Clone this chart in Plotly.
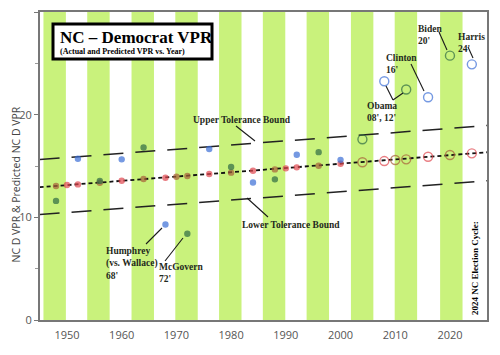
import plotly.graph_objects as go

# ---------------- data ----------------
pred_years = [1948, 1950, 1952, 1956, 1960, 1964, 1968, 1970, 1972, 1976, 1980, 1984,
              1988, 1990, 1992, 1996, 2000, 2004, 2008, 2010, 2012, 2016, 2020, 2024]
pred_vpr = [13.05, 13.15, 13.21, 13.37, 13.56, 13.73, 13.86, 13.96, 14.02, 14.22, 14.35, 14.54,
            14.67, 14.77, 14.87, 15.03, 15.22, 15.36, 15.48, 15.58, 15.65, 15.90, 16.07, 16.23]

act_years = [1948, 1952, 1956, 1960, 1964, 1968, 1972, 1976, 1980, 1984,
             1988, 1992, 1996, 2000, 2004, 2008, 2012, 2016, 2020, 2024]
act_vpr = [11.6, 15.7, 13.55, 15.65, 16.8, 9.3, 8.4, 16.65, 14.9, 13.4,
           13.7, 16.1, 16.35, 15.6, 17.6, 23.25, 22.45, 21.7, 25.75, 24.9]

trend_years = [1945, 2027]
trend_vpr = [12.93, 16.35]
upper_vpr = [15.62, 18.95]
lower_vpr = [10.27, 13.57]

band_starts = [1945.7, 1953.7, 1961.8, 1969.8, 1977.8, 1985.8, 1993.8, 2001.9, 2009.9, 2018.2]
band_width = 4.1

x_ticks = [1950, 1960, 1970, 1980, 1990, 2000, 2010, 2020]
y_ticks = [0, 10, 20, 30]

# ---------------- layout helpers (screen pixel -> data / paper) ----------------
PAGE = 8  # default page body margin of the html page
W, H = 500 - PAGE, 355 - PAGE
L, R, T, B = 40, 487, 12, 320          # plot area in screen pixels
X0, X1 = 1945.07, 2026.77


def X(px):
    return X0 + (px - L) * (X1 - X0) / (R - L)


def Y(py):
    return (B - py) * 30.0 / (B - T)


def PX(px):
    return (px - L) / (R - L)


def PY(py):
    return (B - py) / (B - T)


def in_band(yr):
    return any(s <= yr <= s + band_width for s in band_starts)


SERIF = "Liberation Serif, Times New Roman, serif"
SANS = "Open Sans, Noto Sans, sans-serif"
TXT = "#1f2a20"

fig = go.Figure()

# trend + tolerance bounds
fig.add_trace(go.Scatter(x=trend_years, y=upper_vpr, mode="lines",
                         line=dict(color="#222", width=1.5, dash="20px,12px"),
                         hoverinfo="skip", showlegend=False))
fig.add_trace(go.Scatter(x=trend_years, y=lower_vpr, mode="lines",
                         line=dict(color="#222", width=1.5, dash="20px,12px"),
                         hoverinfo="skip", showlegend=False))
fig.add_trace(go.Scatter(x=trend_years, y=trend_vpr, mode="lines",
                         line=dict(color="#111", width=1.8, dash="4px,3px"),
                         hoverinfo="skip", showlegend=False))

# predicted points
pred_colors = ["#a8603a" if in_band(y) else "#e0474f" for y in pred_years]
pred_open = [y >= 2004 for y in pred_years]
fig.add_trace(go.Scatter(
    x=pred_years, y=pred_vpr, mode="markers", showlegend=False,
    marker=dict(
        symbol=["circle-open" if o else "circle" for o in pred_open],
        size=[9 if o else 5 for o in pred_open],
        color=pred_colors,
        line=dict(color=pred_colors, width=1.4),
    )))

# actual points
act_colors = ["#2f6b45" if in_band(y) else "#3b6ed6" for y in act_years]
act_open = [y >= 2004 for y in act_years]
fig.add_trace(go.Scatter(
    x=act_years, y=act_vpr, mode="markers", showlegend=False,
    marker=dict(
        symbol=["circle-open" if o else "circle" for o in act_open],
        size=[9 if o else 5 for o in act_open],
        color=act_colors,
        line=dict(color=act_colors, width=1.4),
    )))

shapes = []
# green stripes
for s in band_starts:
    shapes.append(dict(type="rect", xref="x", yref="paper", x0=s, x1=s + band_width,
                       y0=0, y1=1, fillcolor="#c9f27c", line=dict(width=0), layer="below"))

# title box
shapes.append(dict(type="rect", xref="paper", yref="paper",
                   x0=PX(53), x1=PX(212), y0=PY(59), y1=PY(24),
                   fillcolor="white", line=dict(color="black", width=3), layer="above"))

# connector lines
connectors = [
    ((236, 126), (255, 141)),   # upper bound
    ((247, 198), (268, 217)),   # lower bound
    ((146, 244), (162, 228)),   # Humphrey
    ((165, 261), (183, 238)),   # McGovern
    ((386, 86), (393, 100)),    # Obama 08
    ((393, 100), (403, 93)),    # Obama 12
    ((411, 64), (424, 91)),     # Clinton
    ((439, 32), (447, 50)),     # Biden
    ((468, 47), (473, 58)),     # Harris
]
for (a, b) in connectors:
    shapes.append(dict(type="line", xref="x", yref="y", x0=X(a[0]), y0=Y(a[1]),
                       x1=X(b[0]), y1=Y(b[1]), line=dict(color="#1a1a1a", width=1.1)))

annotations = []


def label(text, px, py, size=9.5, color=TXT, **kw):
    annotations.append(dict(text=text, xref="paper", yref="paper", x=PX(px), y=PY(py),
                            xanchor=kw.pop("xanchor", "left"), yanchor=kw.pop("yanchor", "middle"),
                            showarrow=False, align="left",
                            font=dict(family=SERIF, size=size, color=color), **kw))


label("<b>NC – Democrat VPR</b>", 58, 37.5, size=17, color="black")
label("<b>(Actual and Predicted VPR vs. Year)</b>", 58, 51.5, size=8, color="black")
label("<b>Upper Tolerance Bound</b>", 191, 120)
label("<b>Lower Tolerance Bound</b>", 240, 225)
label("<b>Humphrey<br>(vs. Wallace)<br>68'</b>", 104, 243.5, yanchor="top")
label("<b>McGovern<br>72'</b>", 157, 259.5, yanchor="top")
label("<b>Obama<br>08', 12'</b>", 365, 99.5, yanchor="top")
label("<b>Clinton<br>16'</b>", 384, 50.5, yanchor="top")
label("<b>Biden<br>20'</b>", 416, 22.5, yanchor="top")
label("<b>Harris<br>24'</b>", 456, 30.5, yanchor="top")
label("<b>2024 NC Election Cycle:</b>", 475, 268, size=9, color="black",
      xanchor="center", textangle=-90)

annotations.append(dict(text="NC D VPR & Predicted NC D VPR", xref="paper", yref="paper",
                        x=PX(15.5), y=PY(185), xanchor="center", yanchor="middle",
                        showarrow=False, textangle=-90, borderpad=0,
                        font=dict(family=SANS, size=10.5, color="#444")))

fig.update_layout(
    width=W, height=H,
    margin=dict(l=L - PAGE, r=500 - R, t=T - PAGE, b=355 - B, autoexpand=False),
    paper_bgcolor="white", plot_bgcolor="white",
    shapes=shapes, annotations=annotations,
    xaxis=dict(range=[X0, X1], tickvals=x_ticks, ticks="outside", ticklen=4,
               tickcolor="rgba(0,0,0,0)", showgrid=False, zeroline=False,
               showline=True, linecolor="#777", linewidth=2, mirror=True,
               tickfont=dict(family=SANS, size=11, color="#555")),
    yaxis=dict(range=[0, 30], tickvals=y_ticks, ticks="outside", ticklen=4,
               tickcolor="#777", showgrid=False, zeroline=False,
               showline=True, linecolor="#777", linewidth=2, mirror=True,
               minor=dict(tickvals=[5, 15, 25], ticks="outside", ticklen=3, tickcolor="#999"),
               tickfont=dict(family=SANS, size=11, color="#555")),
)

fig.write_html("out.html")
